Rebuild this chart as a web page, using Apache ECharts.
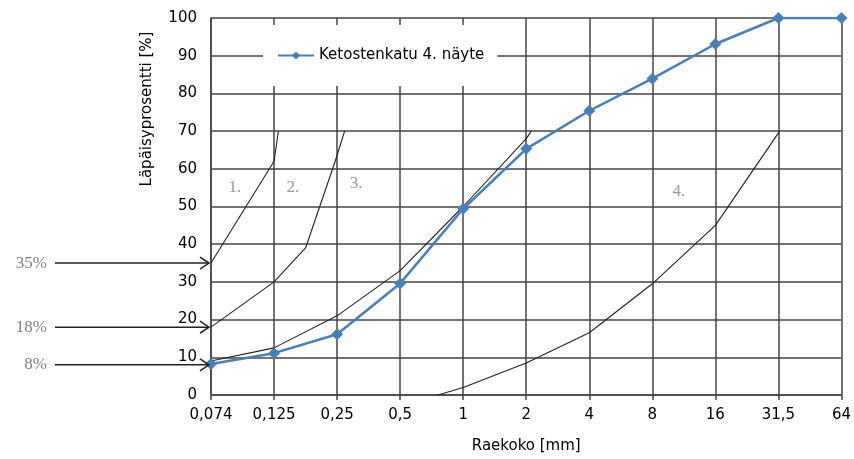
<!DOCTYPE html>
<html>
<head>
<meta charset="utf-8">
<script src="https://cdn.jsdelivr.net/npm/echarts@6/dist/echarts.min.js"></script>
<style>html,body{margin:0;padding:0;background:#fff}#c{width:854px;height:459px}</style>
</head>
<body>
<div id="c"></div>
<script>
const sizeLabels = ['0,074','0,125','0,25','0,5','1','2','4','8','16','31,5','64'];
const sampleName = 'Ketostenkatu 4. näyte';
const sampleValues = [8.2, 11.1, 16.1, 29.6, 49.4, 65.3, 75.4, 83.9, 93.1, 100, 100];
const curve1 = [[0,35],[1,62],[1.07,70]];
const curve2 = [[0,18],[1,30],[1.5,39],[1.97,62],[2.12,70]];
const curve3 = [[0,9],[1,12.5],[2,21],[3,33],[4,50],[5,68],[5.08,70]];
const curve4 = [[3.6,0],[4,2],[5,8.5],[6,16.5],[7,29.5],[8,45],[9.02,70]];
const zoneNames = ['1.','2.','3.','4.'];
const zonePos = [[0.38,55],[1.3,55],[2.3,56],[7.42,54]];
const arrowValues = [35, 18, 8];

const FONT = 'DejaVu Sans';
const chart = echarts.init(document.getElementById('c'), null, {renderer:'canvas'});
const gridColor = '#454545';
const curveStyle = {color:'#222', width:1.1};
function curveSeries(d){
  return {type:'line', data:d, showSymbol:false, symbol:'none', silent:true,
    lineStyle:curveStyle, z:3, animation:false};
}
chart.setOption({
  animation:false,
  grid:{left:211, right:11, top:18, bottom:63, containLabel:false},
  legend:{
    data:[sampleName], left:263, top:25, padding:[23,13,23,14],
    backgroundColor:'#fff', itemWidth:36, itemHeight:10, itemGap:5,
    textStyle:{fontFamily:FONT, fontSize:15, color:'#000'}, z:10
  },
  xAxis:{
    type:'value', min:0, max:10, interval:1,
    axisLine:{show:true, lineStyle:{color:gridColor, width:1.5}},
    axisTick:{show:true, length:5, lineStyle:{color:gridColor, width:1.5}},
    splitLine:{show:true, lineStyle:{color:gridColor, width:1.5}},
    axisLabel:{formatter:v=>sizeLabels[Math.round(v)], margin:13,
      fontFamily:FONT, fontSize:15, color:'#000'},
    name:'Raekoko [mm]', nameLocation:'middle', nameGap:44,
    nameTextStyle:{fontFamily:FONT, fontSize:15, color:'#000'}
  },
  yAxis:{
    type:'value', min:0, max:100, interval:10,
    axisLine:{show:true, lineStyle:{color:gridColor, width:1.5}},
    axisTick:{show:false},
    splitLine:{show:true, lineStyle:{color:gridColor, width:1.5}},
    axisLabel:{margin:14, fontFamily:FONT, fontSize:15, color:'#000'}
  },
  series:[
    curveSeries(curve1), curveSeries(curve2), curveSeries(curve3), curveSeries(curve4),
    {type:'scatter', data:zonePos.map((p,i)=>({name:zoneNames[i], value:p})),
      symbolSize:0, silent:true, z:4,
      label:{show:true, formatter:p=>p.name, position:'inside',
        fontFamily:'Liberation Serif', fontSize:17, color:'#808080'}},
    {name:sampleName, type:'line', data:sampleValues.map((v,i)=>[i,v]),
      symbol:'diamond', symbolSize:12, z:5,
      itemStyle:{color:'#4a7ebb'}, lineStyle:{color:'#4a7ebb', width:2.5}}
  ]
});

const g = [];
arrowValues.forEach(v=>{
  const p = chart.convertToPixel({gridIndex:0}, [0, v]);
  const ex = p[0]-2, ey = p[1];
  g.push({type:'line', shape:{x1:55, y1:ey, x2:ex, y2:ey}, style:{stroke:'#222', lineWidth:1.5}, z:20});
  g.push({type:'polyline', shape:{points:[[ex-9,ey-6],[ex,ey],[ex-9,ey+6]]}, style:{stroke:'#222', lineWidth:1.5, fill:null}, z:20});
  g.push({type:'text', x:47, y:ey, style:{text:v+'%', align:'right', verticalAlign:'middle',
    fontFamily:'Liberation Serif', fontSize:17, fill:'#808080'}, z:20});
});
g.push({type:'text', x:147, y:109, rotation:Math.PI/2,
  style:{text:'Läpäisyprosentti [%]', align:'center', verticalAlign:'middle',
  fontFamily:FONT, fontSize:15, fill:'#000'}, z:20});
chart.setOption({graphic:g});
</script>
</body>
</html>
